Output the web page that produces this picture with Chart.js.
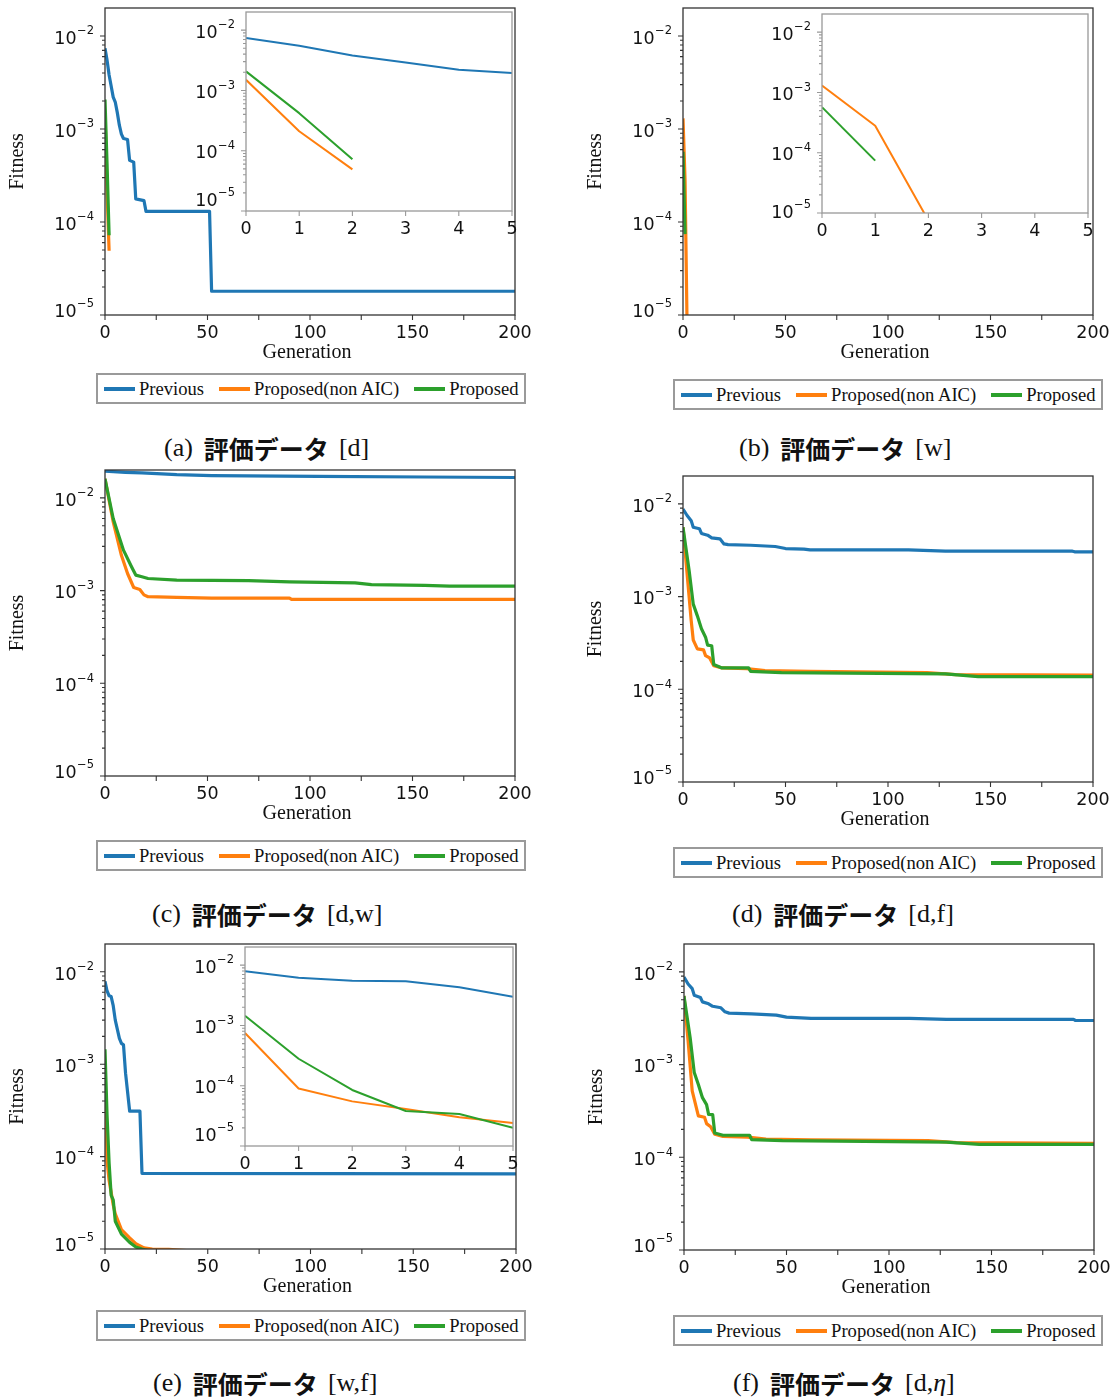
<!DOCTYPE html>
<html lang="ja">
<head>
<meta charset="utf-8">
<title>Fitness vs Generation</title>
<script src="https://cdn.jsdelivr.net/npm/chart.js@4.4.1/dist/chart.umd.min.js"></script>
<style>
  html, body { margin: 0; padding: 0; background: #fff; }
  #fig { position: relative; width: 1112px; height: 1398px; overflow: hidden; background: #fff; }
  #fig canvas { position: absolute; }
  .legend {
    position: absolute; box-sizing: border-box; width: 430px; height: 31px;
    border: 2px solid #9a9a9a; background: #fff;
    display: flex; align-items: center; padding-left: 6px;
    font-family: "Liberation Serif", "Times New Roman", serif; font-size: 18.6px; color: #111;
    white-space: nowrap;
  }
  .legend .item { display: flex; align-items: center; margin-right: 15px; }
  .legend .swatch { display: inline-block; width: 31px; height: 4px; margin-right: 4px; }
  .caption { position: absolute; height: 32px; display: flex; align-items: center; white-space: nowrap; color: #111; }
  .caption .lat { font-family: "Liberation Serif", "Times New Roman", serif; font-size: 26px; }
  .caption .jp { font-family: "Noto Sans CJK JP", sans-serif; font-size: 25px; font-weight: 700; margin: 0 10px 0 11px; }
</style>
</head>
<body>
<div id="fig"></div>
<script>
// ---- series and axes ----
const seriesNames = ['Previous', 'Proposed(non AIC)', 'Proposed'];
const seriesColors = ['#1f77b4', '#ff7f0e', '#2ca02c'];

const genRange = [0, 200];
const genTicks = [0, 25, 50, 75, 100, 125, 150, 175, 200];
const genTickLabels = ['0', '', '50', '', '100', '', '150', '', '200'];

const insetGenRange = [0, 5];
const insetGenTicks = [0, 1, 2, 3, 4, 5];
const insetGenTickLabels = ['0', '1', '2', '3', '4', '5'];

const fitnessRange = [1e-5, 2e-2];
const fitnessDecades = [1e-5, 1e-4, 1e-3, 1e-2];
const fitnessExponents = ['\u22125', '\u22124', '\u22123', '\u22122'];

const captionTitle = '評価データ';
const captionTags = ['(a)', '(b)', '(c)', '(d)', '(e)', '(f)'];
const captionSets = ['[d]', '[w]', '[d,w]', '[d,f]', '[w,f]', '[d,η]'];

// (a) 評価データ [d]
const aPrevGen   = [0, 1, 2, 3, 4, 5, 6, 7, 8, 9, 11, 12, 14, 15, 19, 20, 51, 52, 200];
const aPrevFit   = [7.4e-3, 5.5e-3, 3.8e-3, 2.9e-3, 2.2e-3, 1.95e-3, 1.5e-3, 1.1e-3, 8.8e-4, 7.9e-4, 7.7e-4, 4.6e-4, 4.4e-4, 1.77e-4, 1.7e-4, 1.3e-4, 1.3e-4, 1.8e-5, 1.8e-5];
const aNonAicGen = [0, 1, 2];
const aNonAicFit = [1.5e-3, 2.1e-4, 4.9e-5];
const aPropGen   = [0, 1, 2];
const aPropFit   = [2.07e-3, 4.2e-4, 7.2e-5];

// (b) 評価データ [w]
const bPrevGen   = [];
const bPrevFit   = [];
const bNonAicGen = [0, 1, 2];
const bNonAicFit = [1.3e-3, 2.8e-4, 7.5e-6];
const bPropGen   = [0, 1];
const bPropFit   = [5.7e-4, 7.4e-5];

// (c) 評価データ [d,w]
const cPrevGen   = [0, 10, 18, 35, 52, 104, 156, 200];
const cPrevFit   = [1.94e-2, 1.89e-2, 1.86e-2, 1.78e-2, 1.74e-2, 1.71e-2, 1.68e-2, 1.66e-2];
const cNonAicGen = [0, 4, 8, 11, 14, 17, 19, 21, 35, 52, 90, 91, 200];
const cNonAicFit = [1.61e-2, 5.5e-3, 2.4e-3, 1.53e-3, 1.08e-3, 1.03e-3, 9.0e-4, 8.6e-4, 8.44e-4, 8.31e-4, 8.31e-4, 8.04e-4, 8.04e-4];
const cPropGen   = [0, 4, 9, 13, 15, 18, 21, 35, 70, 90, 122, 130, 156, 168, 200];
const cPropFit   = [1.61e-2, 6.0e-3, 2.73e-3, 1.8e-3, 1.47e-3, 1.41e-3, 1.35e-3, 1.3e-3, 1.28e-3, 1.24e-3, 1.21e-3, 1.16e-3, 1.14e-3, 1.12e-3, 1.12e-3];

// (d) 評価データ [d,f]
const dPrevGen   = [0, 2, 4, 5, 8, 9, 12, 14, 18, 20, 22, 33, 45, 50, 59, 62, 110, 128, 190, 191, 200];
const dPrevFit   = [8.8e-3, 7.5e-3, 6.6e-3, 5.6e-3, 5.4e-3, 4.8e-3, 4.6e-3, 4.3e-3, 4.2e-3, 3.7e-3, 3.64e-3, 3.58e-3, 3.47e-3, 3.3e-3, 3.25e-3, 3.19e-3, 3.19e-3, 3.09e-3, 3.09e-3, 3.04e-3, 3.04e-3];
const dNonAicGen = [0, 2, 4, 5, 7, 10, 11, 13, 15, 19, 31, 40, 62, 119, 133, 200];
const dNonAicFit = [5.6e-3, 1.76e-3, 5.5e-4, 3.4e-4, 2.73e-4, 2.66e-4, 2.31e-4, 2.18e-4, 1.8e-4, 1.7e-4, 1.67e-4, 1.59e-4, 1.56e-4, 1.51e-4, 1.44e-4, 1.42e-4];
const dPropGen   = [0, 3, 5, 7, 9, 11, 12, 14, 15, 19, 32, 33, 48, 128, 144, 200];
const dPropFit   = [5.6e-3, 1.9e-3, 8.3e-4, 6.2e-4, 4.5e-4, 3.65e-4, 3.0e-4, 2.95e-4, 1.85e-4, 1.7e-4, 1.7e-4, 1.56e-4, 1.51e-4, 1.47e-4, 1.37e-4, 1.37e-4];

// (e) 評価データ [w,f]
const ePrevGen   = [0, 1, 2, 3, 4, 5, 7, 8, 9, 10, 12, 17, 18, 200];
const ePrevFit   = [7.9e-3, 6.2e-3, 5.5e-3, 5.4e-3, 4.3e-3, 3.0e-3, 1.9e-3, 1.68e-3, 1.62e-3, 8.0e-4, 3.1e-4, 3.1e-4, 6.6e-5, 6.5e-5];
const eNonAicGen = [0, 1, 2, 3, 4, 5, 8, 12, 15, 19, 23, 31, 40];
const eNonAicFit = [7.5e-4, 9.0e-5, 5.5e-5, 4.1e-5, 3.0e-5, 2.4e-5, 1.62e-5, 1.32e-5, 1.14e-5, 1.03e-5, 1.0e-5, 9.9e-6, 9.6e-6];
const ePropGen   = [0, 1, 2, 3, 4, 5, 8, 12, 15, 18, 21];
const ePropFit   = [1.45e-3, 2.8e-4, 8.5e-5, 3.8e-5, 3.4e-5, 2.0e-5, 1.45e-5, 1.18e-5, 1.05e-5, 1.0e-5, 9.6e-6];

// (f) 評価データ [d,η]
const fPrevGen   = [0, 2, 4, 5, 8, 9, 12, 14, 18, 20, 22, 33, 45, 50, 62, 110, 128, 190, 191, 200];
const fPrevFit   = [8.8e-3, 7.4e-3, 6.6e-3, 5.6e-3, 5.3e-3, 4.75e-3, 4.53e-3, 4.26e-3, 4.1e-3, 3.71e-3, 3.59e-3, 3.53e-3, 3.42e-3, 3.25e-3, 3.15e-3, 3.15e-3, 3.07e-3, 3.07e-3, 2.99e-3, 2.99e-3];
const fNonAicGen = [0, 2, 4, 7, 10, 11, 13, 15, 19, 31, 40, 62, 119, 133, 200];
const fNonAicFit = [5.5e-3, 1.8e-3, 5.2e-4, 2.8e-4, 2.7e-4, 2.31e-4, 2.14e-4, 1.77e-4, 1.68e-4, 1.65e-4, 1.57e-4, 1.54e-4, 1.51e-4, 1.44e-4, 1.41e-4];
const fPropGen   = [0, 3, 5, 7, 9, 11, 12, 14, 15, 19, 32, 33, 48, 128, 144, 200];
const fPropFit   = [5.5e-3, 1.95e-3, 8.2e-4, 6.1e-4, 4.4e-4, 3.7e-4, 2.9e-4, 2.89e-4, 1.83e-4, 1.73e-4, 1.73e-4, 1.55e-4, 1.51e-4, 1.46e-4, 1.38e-4, 1.38e-4];

// ---- panel layout (pixel boxes in the figure) ----
const panels = [
  { series: [[aPrevGen, aPrevFit], [aNonAicGen, aNonAicFit], [aPropGen, aPropFit]],
    canvas: { left: 0, top: 0, width: 556, height: 372 }, plot: { l: 105, t: 8, r: 515, b: 315 },
    legend: { l: 96, t: 373 }, caption: { l: 164, cy: 448 },
    inset: { canvas: { left: 180, top: 0, width: 345, height: 245 }, plot: { l: 246, t: 12, r: 512, b: 211 }, lift: 13 } },
  { series: [[bPrevGen, bPrevFit], [bNonAicGen, bNonAicFit], [bPropGen, bPropFit]],
    canvas: { left: 556, top: 0, width: 556, height: 376 }, plot: { l: 683, t: 8, r: 1093, b: 315 },
    legend: { l: 673, t: 379 }, caption: { l: 739, cy: 448 },
    inset: { canvas: { left: 756, top: 0, width: 345, height: 247 }, plot: { l: 822, t: 14, r: 1088, b: 213 }, lift: 3 } },
  { series: [[cPrevGen, cPrevFit], [cNonAicGen, cNonAicFit], [cPropGen, cPropFit]],
    canvas: { left: 0, top: 462, width: 556, height: 376 }, plot: { l: 105, t: 470, r: 515, b: 776 },
    legend: { l: 96, t: 840 }, caption: { l: 152, cy: 914 } },
  { series: [[dPrevGen, dPrevFit], [dNonAicGen, dNonAicFit], [dPropGen, dPropFit]],
    canvas: { left: 556, top: 462, width: 556, height: 382 }, plot: { l: 683, t: 476, r: 1093, b: 782 },
    legend: { l: 673, t: 847 }, caption: { l: 732, cy: 914 } },
  { series: [[ePrevGen, ePrevFit], [eNonAicGen, eNonAicFit], [ePropGen, ePropFit]],
    canvas: { left: 0, top: 930, width: 556, height: 378 }, plot: { l: 105, t: 944, r: 516, b: 1249 },
    legend: { l: 96, t: 1310 }, caption: { l: 153, cy: 1383 },
    inset: { canvas: { left: 180, top: 930, width: 345, height: 250 }, plot: { l: 245, t: 947, r: 513, b: 1146 }, lift: 13 } },
  { series: [[fPrevGen, fPrevFit], [fNonAicGen, fNonAicFit], [fPropGen, fPropFit]],
    canvas: { left: 556, top: 930, width: 556, height: 382 }, plot: { l: 684, t: 944, r: 1094, b: 1250 },
    legend: { l: 673, t: 1315 }, caption: { l: 733, cy: 1383 } }
];

// ---- matplotlib-style axes: spines, out-facing ticks, 10^n labels, titles ----
const mplAxes = {
  id: 'mplAxes',
  beforeDatasetsDraw(chart, args, o) {
    if (!o.fillArea) return;
    const { ctx, chartArea: a } = chart;
    ctx.save();
    ctx.fillStyle = '#fff';
    ctx.fillRect(a.left, a.top, a.right - a.left, a.bottom - a.top);
    ctx.restore();
  },
  afterDatasetsDraw(chart, args, o) {
    const { ctx, chartArea: a } = chart;
    const xs = chart.scales.x, ys = chart.scales.y;
    ctx.save();
    // frame
    ctx.lineWidth = 1.3;
    ctx.strokeStyle = o.spineColor;
    ctx.strokeRect(a.left, a.top, a.right - a.left, a.bottom - a.top);
    // tick marks
    ctx.lineWidth = 1.1;
    ctx.beginPath();
    o.xTicks.forEach(v => {
      const px = xs.getPixelForValue(v);
      ctx.moveTo(px, a.bottom); ctx.lineTo(px, a.bottom + 5);
    });
    o.yTicks.forEach(d => {
      const py = ys.getPixelForValue(d);
      ctx.moveTo(a.left, py); ctx.lineTo(a.left - 5, py);
      for (let k = 2; k <= 9; k++) {
        const v = d * k;
        if (v >= ys.max) break;
        const pm = ys.getPixelForValue(v);
        ctx.moveTo(a.left, pm); ctx.lineTo(a.left - 3, pm);
      }
    });
    ctx.stroke();
    // tick labels
    ctx.fillStyle = '#111';
    ctx.textBaseline = 'alphabetic';
    ctx.textAlign = 'center';
    ctx.font = '17.5px "DejaVu Sans"';
    o.xTicks.forEach((v, i) => {
      const t = o.xLabels[i];
      if (t) ctx.fillText(t, xs.getPixelForValue(v), a.bottom + 23);
    });
    ctx.textAlign = 'right';
    const right = a.left - 11;
    o.yTicks.forEach((d, i) => {
      const py = ys.getPixelForValue(d) - (i === 0 ? o.lowLift : 0);
      ctx.font = '11.5px "DejaVu Sans"';
      const sw = ctx.measureText(o.yExps[i]).width;
      ctx.fillText(o.yExps[i], right, py - 1.7);
      ctx.font = '17.5px "DejaVu Sans"';
      ctx.fillText('10', right - sw - 0.5, py + 7.7);
    });
    // axis titles
    if (o.xTitle) {
      ctx.font = '20px "Liberation Serif"';
      ctx.textAlign = 'center';
      ctx.fillText(o.xTitle, (a.left + a.right) / 2 - 3, a.bottom + 43);
    }
    if (o.yTitle) {
      ctx.font = '20px "Liberation Serif"';
      ctx.textAlign = 'center';
      ctx.textBaseline = 'middle';
      ctx.translate(a.left - 87.5, (a.top + a.bottom) / 2);
      ctx.rotate(-Math.PI / 2);
      ctx.fillText(o.yTitle, 0, 0);
    }
    ctx.restore();
  }
};

const fig = document.getElementById('fig');

function addCanvas(box) {
  const c = document.createElement('canvas');
  c.width = box.width; c.height = box.height;
  c.style.left = box.left + 'px'; c.style.top = box.top + 'px';
  c.style.width = box.width + 'px'; c.style.height = box.height + 'px';
  fig.appendChild(c);
  return c;
}

function drawAxes(box, plot, series, opts) {
  const canvas = addCanvas(box);
  const padding = {
    left: plot.l - box.left, top: plot.t - box.top,
    right: box.left + box.width - plot.r, bottom: box.top + box.height - plot.b
  };
  const datasets = series.map(([gens, fits], i) => ({
    label: seriesNames[i],
    data: gens.map((g, j) => ({ x: g, y: fits[j] })),
    borderColor: seriesColors[i],
    backgroundColor: seriesColors[i],
    borderWidth: opts.lineWidth,
    pointRadius: 0,
    tension: 0,
    fill: false,
    clip: 0,
    order: 2 - i
  }));
  return new Chart(canvas, {
    type: 'line',
    data: { datasets },
    options: {
      responsive: false, animation: false, devicePixelRatio: 1, events: [],
      layout: { padding },
      elements: { line: { borderJoinStyle: 'round', borderCapStyle: 'butt' } },
      scales: {
        x: { type: 'linear', display: false, min: opts.xRange[0], max: opts.xRange[1] },
        y: { type: 'logarithmic', display: false, min: fitnessRange[0], max: fitnessRange[1] }
      },
      plugins: {
        legend: { display: false }, tooltip: { enabled: false },
        mplAxes: {
          fillArea: opts.fillArea, spineColor: opts.spineColor,
          xTicks: opts.xTicks, xLabels: opts.xLabels,
          yTicks: fitnessDecades, yExps: fitnessExponents, lowLift: opts.lowLift,
          xTitle: opts.xTitle, yTitle: opts.yTitle
        }
      }
    },
    plugins: [mplAxes]
  });
}

function addLegend(pos) {
  const lg = document.createElement('div');
  lg.className = 'legend';
  lg.style.left = pos.l + 'px'; lg.style.top = pos.t + 'px';
  seriesNames.forEach((name, i) => {
    const it = document.createElement('span');
    it.className = 'item';
    const sw = document.createElement('span');
    sw.className = 'swatch';
    sw.style.background = seriesColors[i];
    it.appendChild(sw);
    it.appendChild(document.createTextNode(name));
    lg.appendChild(it);
  });
  fig.appendChild(lg);
}

function addCaption(pos, tag, set) {
  const cap = document.createElement('div');
  cap.className = 'caption';
  cap.style.left = pos.l + 'px'; cap.style.top = (pos.cy - 16) + 'px';
  const t = document.createElement('span'); t.className = 'lat'; t.textContent = tag;
  const j = document.createElement('span'); j.className = 'jp'; j.textContent = captionTitle;
  const s = document.createElement('span'); s.className = 'lat';
  s.innerHTML = set.replace('η', '<i>η</i>');
  cap.appendChild(t); cap.appendChild(j); cap.appendChild(s);
  fig.appendChild(cap);
}

panels.forEach((p, idx) => {
  drawAxes(p.canvas, p.plot, p.series, {
    lineWidth: 3.2, xRange: genRange, xTicks: genTicks, xLabels: genTickLabels,
    spineColor: '#333', fillArea: false, lowLift: 6,
    xTitle: 'Generation', yTitle: 'Fitness'
  });
  if (p.inset) {
    drawAxes(p.inset.canvas, p.inset.plot, p.series, {
      lineWidth: 2, xRange: insetGenRange, xTicks: insetGenTicks, xLabels: insetGenTickLabels,
      spineColor: '#999', fillArea: true, lowLift: p.inset.lift,
      xTitle: '', yTitle: ''
    });
  }
  addLegend(p.legend);
  addCaption(p.caption, captionTags[idx], captionSets[idx]);
});
</script>
</body>
</html>
